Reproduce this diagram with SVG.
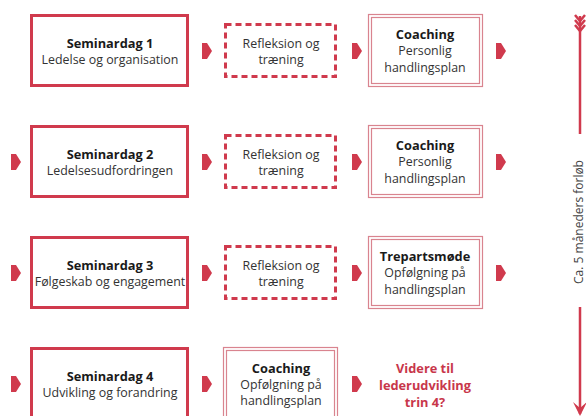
<svg xmlns="http://www.w3.org/2000/svg" width="586" height="416" viewBox="0 0 586 416">
<defs>
<style>
.solid{fill:#fff;stroke:#d03a4d;stroke-width:3}
.dash{fill:#fff;stroke:#d03a4d;stroke-width:3;stroke-dasharray:6 4}
.dbl{fill:none;stroke:#d9848f;stroke-width:1.2}
.t{font-family:"Open Sans","Noto Sans",sans-serif;font-size:12.4px;fill:#333;text-anchor:middle}
.b{font-weight:bold;fill:#1a1a1a;font-size:12.8px}
.r{font-weight:bold;fill:#c8374b;font-size:12.8px}
.arr{fill:#d03a4d}
.ln{stroke:#d03a4d;stroke-width:2.5;fill:none}
</style>
<polygon id="ar" class="arr" points="0,-8 5,-8 10,0 5,8 0,8"/>
</defs>

<g id="connectors">
<use href="#ar" x="202" y="51"/>
<use href="#ar" x="352" y="51"/>
<use href="#ar" x="496" y="51"/>
<use href="#ar" x="11" y="162"/>
<use href="#ar" x="202" y="162"/>
<use href="#ar" x="352" y="162"/>
<use href="#ar" x="496" y="162"/>
<use href="#ar" x="11" y="273"/>
<use href="#ar" x="202" y="273"/>
<use href="#ar" x="352" y="273"/>
<use href="#ar" x="496" y="273"/>
<use href="#ar" x="11" y="384"/>
<use href="#ar" x="202" y="384"/>
<use href="#ar" x="352" y="384"/>
</g>

<g id="s1"><rect class="solid" x="31.5" y="15.5" width="156" height="70"/>
<text class="t b" x="110" y="48">Seminardag 1</text><text class="t" x="110" y="64">Ledelse og organisation</text></g>
<g id="r1"><rect class="dash" x="225.5" y="24.5" width="110" height="52"/>
<text class="t" x="281" y="48">Refleksion og</text><text class="t" x="281" y="64">træning</text></g>
<g id="c1"><rect class="dbl" x="368.5" y="14.5" width="114" height="72"/><rect class="dbl" x="371.5" y="17.5" width="108" height="66"/>
<text class="t b" x="425" y="39">Coaching</text><text class="t" x="425" y="55">Personlig</text><text class="t" x="425" y="72">handlingsplan</text></g>

<g id="s2"><rect class="solid" x="31.5" y="126.5" width="156" height="70"/>
<text class="t b" x="110" y="159">Seminardag 2</text><text class="t" x="110" y="175">Ledelsesudfordringen</text></g>
<g id="r2"><rect class="dash" x="225.5" y="135.5" width="110" height="52"/>
<text class="t" x="281" y="159">Refleksion og</text><text class="t" x="281" y="175">træning</text></g>
<g id="c2"><rect class="dbl" x="368.5" y="125.5" width="114" height="72"/><rect class="dbl" x="371.5" y="128.5" width="108" height="66"/>
<text class="t b" x="425" y="150">Coaching</text><text class="t" x="425" y="166">Personlig</text><text class="t" x="425" y="183">handlingsplan</text></g>

<g id="s3"><rect class="solid" x="31.5" y="237.5" width="156" height="70"/>
<text class="t b" x="110" y="270">Seminardag 3</text><text class="t" x="110" y="286">Følgeskab og engagement</text></g>
<g id="r3"><rect class="dash" x="225.5" y="246.5" width="110" height="52"/>
<text class="t" x="281" y="270">Refleksion og</text><text class="t" x="281" y="286">træning</text></g>
<g id="c3"><rect class="dbl" x="368.5" y="236.5" width="114" height="72"/><rect class="dbl" x="371.5" y="239.5" width="108" height="66"/>
<text class="t b" x="425" y="261">Trepartsmøde</text><text class="t" x="425" y="277">Opfølgning på</text><text class="t" x="425" y="294">handlingsplan</text></g>

<g id="s4"><rect class="solid" x="31.5" y="348.5" width="156" height="80"/>
<text class="t b" x="110" y="381">Seminardag 4</text><text class="t" x="110" y="397">Udvikling og forandring</text></g>
<g id="c4"><rect class="dbl" x="223.5" y="347.5" width="114" height="80"/><rect class="dbl" x="226.5" y="350.5" width="108" height="80"/>
<text class="t b" x="281" y="373">Coaching</text><text class="t" x="281" y="389">Opfølgning på</text><text class="t" x="281" y="405">handlingsplan</text></g>
<g id="v4"><text class="t r" x="425" y="373">Videre til</text><text class="t r" x="425" y="390">lederudvikling</text><text class="t r" x="425" y="407">trin 4?</text></g>

<g id="timeline">
<path class="ln" d="M580,16 V134 M580,307 V414"/>
<path class="ln" stroke-width="2" d="M575,15 L580,21 L585,15 M575,20 L580,26 L585,20 M575,25 L580,31 L585,25"/>
<polygon class="arr" points="573,402 580,416 587,402 580,408"/>
<text class="t" style="font-size:12px;fill:#444" transform="translate(583,222) rotate(-90)">Ca. 5 måneders forløb</text>
</g>
</svg>
